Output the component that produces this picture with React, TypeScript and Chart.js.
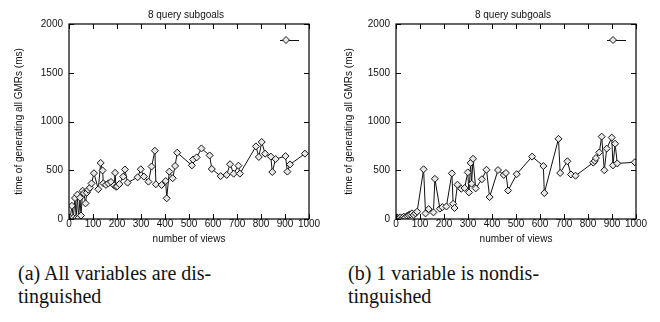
import React, { useEffect, useRef } from "react";
import { Chart, registerables } from "chart.js";

Chart.register(...registerables);

// ---- data ----
const chartTitle = "8 query subgoals";
const xAxisTitle = "number of views";
const yAxisTitle = "time of generating all GMRs (ms)";
const xTickValues = [0, 100, 200, 300, 400, 500, 600, 700, 800, 900, 1000];
const yTickValues = [0, 500, 1000, 1500, 2000];

const captionA = ["(a) All variables are dis-", "tinguished"];
const captionB = ["(b) 1 variable is nondis-", "tinguished"];

// (a) all variables distinguished
const viewsA = [5, 12, 18, 25, 30, 35, 40, 46, 50, 57, 62, 69, 74, 80, 87, 94, 104, 122, 132, 140, 143, 154, 164, 175, 188, 192, 196, 201, 210, 226, 233, 244, 286, 299, 312, 331, 344, 358, 362, 386, 403, 407, 418, 432, 442, 451, 512, 517, 532, 552, 586, 595, 632, 657, 671, 686, 706, 712, 779, 791, 803, 817, 841, 847, 861, 902, 910, 921, 983];
const timeA = [10, 135, 12, 215, 10, 250, 12, 218, 35, 290, 265, 160, 270, 300, 320, 365, 470, 305, 575, 498, 366, 350, 366, 380, 345, 474, 330, 335, 358, 435, 508, 373, 428, 510, 435, 383, 538, 700, 356, 349, 390, 212, 486, 418, 544, 680, 550, 610, 632, 724, 652, 513, 440, 452, 562, 465, 547, 465, 745, 636, 790, 670, 640, 482, 615, 645, 486, 560, 670];

// (b) 1 variable nondistinguished
const viewsB = [4, 11, 18, 25, 32, 39, 46, 53, 60, 67, 74, 81, 88, 115, 123, 136, 156, 162, 183, 193, 210, 233, 238, 244, 256, 272, 286, 299, 304, 311, 315, 321, 332, 358, 377, 390, 425, 449, 458, 467, 503, 567, 614, 618, 677, 684, 714, 729, 748, 822, 828, 833, 847, 857, 868, 878, 899, 904, 913, 922, 995];
const timeB = [17, 7, 17, 7, 24, 17, 31, 41, 48, 58, 41, 58, 75, 510, 57, 102, 68, 412, 106, 122, 128, 468, 156, 113, 352, 310, 318, 478, 273, 575, 362, 618, 314, 408, 505, 225, 502, 452, 472, 292, 460, 640, 543, 266, 822, 472, 592, 457, 444, 578, 596, 625, 683, 845, 500, 722, 835, 550, 772, 570, 582];

const FONT = '"Liberation Sans", Arial, sans-serif';
const INK = "#111";

const framePlugin = {
  id: "gnuplotFrame",
  afterDatasetsDraw(chart: any) {
    const { ctx, chartArea } = chart;
    const { left, right, top, bottom } = chartArea;
    const xs = chart.scales.x;
    const ys = chart.scales.y;
    ctx.save();
    ctx.strokeStyle = "#000";
    ctx.lineWidth = 1.2;
    ctx.strokeRect(left, top, right - left, bottom - top);
    ctx.lineWidth = 1;
    const tl = 5;
    ctx.beginPath();
    for (const v of xTickValues) {
      const px = Math.round(xs.getPixelForValue(v)) + 0.5;
      ctx.moveTo(px, bottom);
      ctx.lineTo(px, bottom - tl);
      ctx.moveTo(px, top);
      ctx.lineTo(px, top + tl);
    }
    for (const v of yTickValues) {
      const py = Math.round(ys.getPixelForValue(v)) + 0.5;
      ctx.moveTo(left, py);
      ctx.lineTo(left + tl, py);
      ctx.moveTo(right, py);
      ctx.lineTo(right - tl, py);
    }
    ctx.stroke();

    // title
    ctx.fillStyle = INK;
    ctx.font = "10px " + FONT;
    ctx.textAlign = "center";
    ctx.textBaseline = "middle";
    ctx.fillText(chartTitle, (left + right) / 2 - 3, 15);

    // legend sample (line + diamond)
    const ly = top + 16;
    ctx.strokeStyle = INK;
    ctx.beginPath();
    ctx.moveTo(right - 29, ly + 0.5);
    ctx.lineTo(right - 10, ly + 0.5);
    ctx.stroke();
    const cx = right - 23;
    const r = 3.5;
    ctx.beginPath();
    ctx.moveTo(cx - r, ly);
    ctx.lineTo(cx, ly - r);
    ctx.lineTo(cx + r, ly);
    ctx.lineTo(cx, ly + r);
    ctx.closePath();
    ctx.fillStyle = "#e8e8e8";
    ctx.fill();
    ctx.stroke();
    ctx.restore();
  },
};

function Panel(props: { xs: number[]; ys: number[]; plotLeft: number; plotRight: number }) {
  const ref = useRef<HTMLCanvasElement | null>(null);
  useEffect(() => {
    if (!ref.current) return;
    const data = props.xs.map((x, i) => ({ x, y: props.ys[i] }));
    const chart = new Chart(ref.current, {
      type: "line",
      data: {
        datasets: [
          {
            data,
            borderColor: INK,
            borderWidth: 1,
            tension: 0,
            pointStyle: "rectRot",
            pointRadius: 3.5,
            pointBorderWidth: 1,
            pointBorderColor: INK,
            pointBackgroundColor: "#e8e8e8",
          },
        ],
      },
      options: {
        animation: false,
        responsive: true,
        maintainAspectRatio: false,
        devicePixelRatio: 1,
        layout: { padding: { left: 0, right: 330 - props.plotRight, top: 24, bottom: 0 } },
        plugins: { legend: { display: false }, tooltip: { enabled: false }, title: { display: false } },
        scales: {
          x: {
            type: "linear",
            min: 0,
            max: 1000,
            grid: { display: false, drawTicks: false },
            border: { display: false },
            ticks: {
              stepSize: 100,
              padding: -1,
              color: INK,
              font: { family: FONT, size: 10 },
              maxRotation: 0,
              autoSkip: false,
              callback: (v: any) => String(v),
            },
            title: { display: true, text: xAxisTitle, color: INK, font: { family: FONT, size: 10 }, padding: { top: 0, bottom: 5 } },
            afterFit: (s: any) => {
              s.height = 31;
            },
          },
          y: {
            type: "linear",
            min: 0,
            max: 2000,
            grid: { display: false, drawTicks: false },
            border: { display: false },
            ticks: { stepSize: 500, padding: 6, color: INK, font: { family: FONT, size: 10 }, callback: (v: any) => String(v) },
            title: { display: true, text: yAxisTitle, color: INK, font: { family: FONT, size: 10 }, padding: { top: 13, bottom: 0 } },
            afterFit: (s: any) => {
              s.width = props.plotLeft;
            },
          },
        },
      },
      plugins: [framePlugin],
    } as any);
    return () => chart.destroy();
  }, []);
  return (
    <div style={{ position: "relative", width: 330, height: 250 }}>
      <canvas ref={ref} />
    </div>
  );
}

const captionStyle: React.CSSProperties = {
  position: "absolute",
  top: 262,
  fontFamily: '"Liberation Serif", "Times New Roman", serif',
  fontSize: 20,
  lineHeight: "23px",
  color: INK,
  whiteSpace: "nowrap",
};

export default function App() {
  return (
    <div style={{ position: "fixed", left: 0, top: 0, width: 660, height: 322, background: "#fff", overflow: "hidden" }}>
      <div style={{ position: "absolute", left: 0, top: 0 }}>
        <Panel xs={viewsA} ys={timeA} plotLeft={69} plotRight={309} />
      </div>
      <div style={{ position: "absolute", left: 330, top: 0 }}>
        <Panel xs={viewsB} ys={timeB} plotLeft={66} plotRight={306} />
      </div>
      <div style={{ ...captionStyle, left: 18 }}>
        {captionA[0]}
        <br />
        {captionA[1]}
      </div>
      <div style={{ ...captionStyle, left: 348 }}>
        {captionB[0]}
        <br />
        {captionB[1]}
      </div>
    </div>
  );
}
